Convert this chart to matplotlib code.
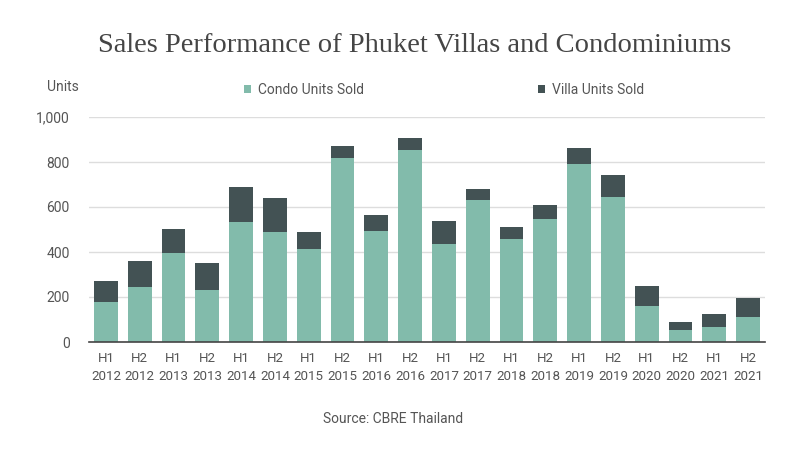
import matplotlib
matplotlib.use("Agg")
import matplotlib.pyplot as plt
import numpy as np

periods = ["H1\n2012", "H2\n2012", "H1\n2013", "H2\n2013", "H1\n2014", "H2\n2014",
           "H1\n2015", "H2\n2015", "H1\n2016", "H2\n2016", "H1\n2017", "H2\n2017",
           "H1\n2018", "H2\n2018", "H1\n2019", "H2\n2019", "H1\n2020", "H2\n2020",
           "H1\n2021", "H2\n2021"]
condo_units = [176, 244, 397, 233, 532, 489, 414, 820, 492, 852, 434, 632,
               456, 545, 792, 645, 161, 55, 65, 112]
total_units = [273, 359, 502, 349, 688, 640, 487, 870, 563, 907, 538, 681,
               510, 607, 863, 742, 247, 90, 126, 195]
villa_units = [t - c for t, c in zip(total_units, condo_units)]
yticks = [0, 200, 400, 600, 800, 1000]
ytick_labels = ["0", "200", "400", "600", "800", "1,000"]

condo_color = "#82BBAB"
villa_color = "#435254"
text_color = "#555555"
sans = ["Roboto", "DejaVu Sans"]
fs = 10

fig = plt.figure(figsize=(8, 4.5), dpi=100)
ax = fig.add_axes([89/800, 1-342/450, 676/800, 225/450])

x = np.arange(len(periods))
b1 = ax.bar(x, condo_units, width=0.71, color=condo_color, label="Condo Units Sold", zorder=3)
b2 = ax.bar(x, villa_units, width=0.71, bottom=condo_units, color=villa_color,
            label="Villa Units Sold", zorder=3)

ax.set_xlim(-0.5, len(periods) - 0.5)
ax.set_ylim(0, 1000)
ax.set_yticks(yticks)
ax.set_yticklabels(ytick_labels)
ax.set_xticks(x)
ax.set_xticklabels(periods, linespacing=1.5)
ax.yaxis.grid(True, color="#DDDDDD", linewidth=1, zorder=0)
ax.set_axisbelow(True)
for s in ["top", "right", "left"]:
    ax.spines[s].set_visible(False)
ax.spines["bottom"].set_color("#444444")
ax.spines["bottom"].set_linewidth(1.2)
ax.spines["bottom"].set_zorder(4)
ax.tick_params(axis="y", length=0, labelsize=fs, colors=text_color, pad=14)
ax.tick_params(axis="x", length=0, labelsize=9.6, colors=text_color, pad=7)
for lbl in ax.get_xticklabels() + ax.get_yticklabels():
    lbl.set_family(sans)

fig.text(415/800, 1-45/450, "Sales Performance of Phuket Villas and Condominiums",
         ha="center", va="center", fontsize=20.5, color="#454545",
         family=["Liberation Serif", "DejaVu Serif"])
fig.text(47/800, 1-87/450, "Units", ha="left", va="center", fontsize=fs,
         color=text_color, family=sans)
fig.text(393/800, 1-419/450, "Source: CBRE Thailand", ha="center", va="center",
         fontsize=fs, color=text_color, family=sans)

leg = fig.legend(handles=[b1, b2], loc="center left", bbox_to_anchor=(231/800, 1-90/450),
                 ncol=2, frameon=False, handlelength=0.55, handleheight=0.55,
                 handletextpad=0.5, columnspacing=12.5,
                 prop={"family": sans, "size": fs})
for t in leg.get_texts():
    t.set_color(text_color)

fig.savefig("out.png", dpi=100)
